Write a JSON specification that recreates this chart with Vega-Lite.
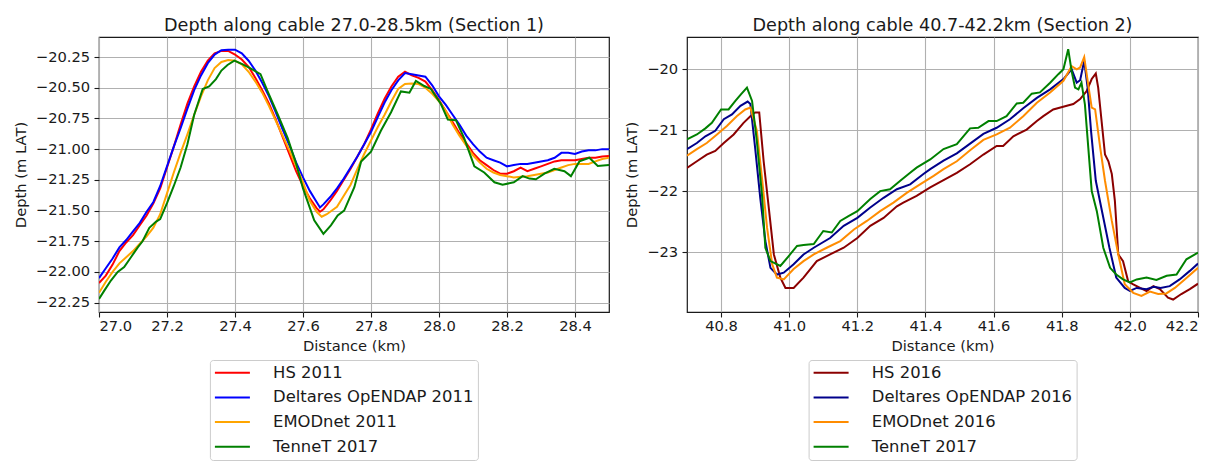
{
"$schema": "https://vega.github.io/schema/vega-lite/v6.json",
"background": "white",
"padding": {"left": 12, "top": 16, "right": 5, "bottom": 0},
"spacing": 14,
"config": {
 "font": "DejaVu Sans",
 "view": {"stroke": "#1a1a1a", "strokeWidth": 1.2},
 "axis": {"grid": true, "gridColor": "#b0b0b0", "gridWidth": 1.1, "domain": false, "tickColor": "#1a1a1a", "tickSize": 5, "tickWidth": 1.1, "labelFont": "DejaVu Sans", "labelFontSize": 14.7, "labelColor": "#1a1a1a", "titleFont": "DejaVu Sans", "titleFontSize": 14.7, "titleFontWeight": "normal", "titleColor": "#1a1a1a"},
 "axisX": {"labelPadding": 1.5, "titlePadding": 5.5},
 "axisY": {"labelPadding": 4.3, "titlePadding": 7},
 "title": {"font": "DejaVu Sans", "fontSize": 17.6, "fontWeight": "normal", "color": "#1a1a1a", "offset": 2.3, "frame": "group", "anchor": "middle"},
 "legend": {"orient": "none", "title": null, "symbolType": "M-2.5,0H2.5", "symbolSize": 196, "symbolStrokeWidth": 2, "symbolOffset": 9.8, "labelOffset": 32.5, "labelFont": "DejaVu Sans", "labelFontSize": 16.4, "labelColor": "#1a1a1a", "labelLimit": 500, "rowPadding": 7.7, "padding": 4.5, "strokeColor": "#cccccc", "fillColor": "white", "cornerRadius": 3}
},
"resolve": {"scale": {"color": "independent"}, "legend": {"color": "independent"}},
"datasets": {
"s1": [
{"x":27.00,"y":-22.09,"s":"HS"},{"x":27.02,"y":-22.03,"s":"HS"},{"x":27.04,"y":-21.94,"s":"HS"},{"x":27.06,"y":-21.83,"s":"HS"},{"x":27.08,"y":-21.76,"s":"HS"},{"x":27.10,"y":-21.70,"s":"HS"},{"x":27.12,"y":-21.62,"s":"HS"},{"x":27.14,"y":-21.54,"s":"HS"},{"x":27.16,"y":-21.44,"s":"HS"},{"x":27.18,"y":-21.32,"s":"HS"},{"x":27.20,"y":-21.15,"s":"HS"},{"x":27.22,"y":-20.98,"s":"HS"},{"x":27.24,"y":-20.80,"s":"HS"},{"x":27.26,"y":-20.63,"s":"HS"},{"x":27.28,"y":-20.49,"s":"HS"},{"x":27.30,"y":-20.37,"s":"HS"},{"x":27.32,"y":-20.28,"s":"HS"},{"x":27.34,"y":-20.22,"s":"HS"},{"x":27.36,"y":-20.20,"s":"HS"},{"x":27.38,"y":-20.20,"s":"HS"},{"x":27.40,"y":-20.23,"s":"HS"},{"x":27.42,"y":-20.27,"s":"HS"},{"x":27.44,"y":-20.33,"s":"HS"},{"x":27.46,"y":-20.42,"s":"HS"},{"x":27.48,"y":-20.52,"s":"HS"},{"x":27.50,"y":-20.63,"s":"HS"},{"x":27.52,"y":-20.76,"s":"HS"},{"x":27.54,"y":-20.90,"s":"HS"},{"x":27.56,"y":-21.04,"s":"HS"},{"x":27.58,"y":-21.18,"s":"HS"},{"x":27.60,"y":-21.30,"s":"HS"},{"x":27.62,"y":-21.40,"s":"HS"},{"x":27.64,"y":-21.48,"s":"HS"},{"x":27.65,"y":-21.51,"s":"HS"},{"x":27.66,"y":-21.49,"s":"HS"},{"x":27.68,"y":-21.42,"s":"HS"},{"x":27.70,"y":-21.34,"s":"HS"},{"x":27.72,"y":-21.25,"s":"HS"},{"x":27.74,"y":-21.16,"s":"HS"},{"x":27.76,"y":-21.06,"s":"HS"},{"x":27.78,"y":-20.96,"s":"HS"},{"x":27.80,"y":-20.84,"s":"HS"},{"x":27.82,"y":-20.71,"s":"HS"},{"x":27.84,"y":-20.59,"s":"HS"},{"x":27.86,"y":-20.49,"s":"HS"},{"x":27.88,"y":-20.41,"s":"HS"},{"x":27.90,"y":-20.37,"s":"HS"},{"x":27.92,"y":-20.40,"s":"HS"},{"x":27.94,"y":-20.42,"s":"HS"},{"x":27.96,"y":-20.45,"s":"HS"},{"x":27.98,"y":-20.52,"s":"HS"},{"x":28.00,"y":-20.60,"s":"HS"},{"x":28.02,"y":-20.69,"s":"HS"},{"x":28.04,"y":-20.78,"s":"HS"},{"x":28.06,"y":-20.87,"s":"HS"},{"x":28.08,"y":-20.95,"s":"HS"},{"x":28.10,"y":-21.03,"s":"HS"},{"x":28.12,"y":-21.09,"s":"HS"},{"x":28.14,"y":-21.13,"s":"HS"},{"x":28.16,"y":-21.17,"s":"HS"},{"x":28.18,"y":-21.20,"s":"HS"},{"x":28.20,"y":-21.20,"s":"HS"},{"x":28.22,"y":-21.18,"s":"HS"},{"x":28.24,"y":-21.15,"s":"HS"},{"x":28.26,"y":-21.18,"s":"HS"},{"x":28.28,"y":-21.16,"s":"HS"},{"x":28.30,"y":-21.14,"s":"HS"},{"x":28.32,"y":-21.12,"s":"HS"},{"x":28.34,"y":-21.10,"s":"HS"},{"x":28.36,"y":-21.09,"s":"HS"},{"x":28.38,"y":-21.09,"s":"HS"},{"x":28.40,"y":-21.09,"s":"HS"},{"x":28.42,"y":-21.08,"s":"HS"},{"x":28.44,"y":-21.07,"s":"HS"},{"x":28.46,"y":-21.07,"s":"HS"},{"x":28.48,"y":-21.06,"s":"HS"},{"x":28.50,"y":-21.055,"s":"HS"},
{"x":27.00,"y":-22.05,"s":"DE"},{"x":27.02,"y":-21.97,"s":"DE"},{"x":27.04,"y":-21.89,"s":"DE"},{"x":27.06,"y":-21.80,"s":"DE"},{"x":27.08,"y":-21.74,"s":"DE"},{"x":27.10,"y":-21.67,"s":"DE"},{"x":27.12,"y":-21.60,"s":"DE"},{"x":27.14,"y":-21.51,"s":"DE"},{"x":27.16,"y":-21.43,"s":"DE"},{"x":27.18,"y":-21.30,"s":"DE"},{"x":27.20,"y":-21.14,"s":"DE"},{"x":27.22,"y":-20.98,"s":"DE"},{"x":27.24,"y":-20.83,"s":"DE"},{"x":27.26,"y":-20.67,"s":"DE"},{"x":27.28,"y":-20.52,"s":"DE"},{"x":27.30,"y":-20.40,"s":"DE"},{"x":27.32,"y":-20.30,"s":"DE"},{"x":27.34,"y":-20.23,"s":"DE"},{"x":27.36,"y":-20.195,"s":"DE"},{"x":27.38,"y":-20.19,"s":"DE"},{"x":27.40,"y":-20.19,"s":"DE"},{"x":27.42,"y":-20.22,"s":"DE"},{"x":27.44,"y":-20.28,"s":"DE"},{"x":27.46,"y":-20.36,"s":"DE"},{"x":27.48,"y":-20.46,"s":"DE"},{"x":27.50,"y":-20.57,"s":"DE"},{"x":27.52,"y":-20.70,"s":"DE"},{"x":27.54,"y":-20.84,"s":"DE"},{"x":27.56,"y":-20.97,"s":"DE"},{"x":27.58,"y":-21.11,"s":"DE"},{"x":27.60,"y":-21.23,"s":"DE"},{"x":27.62,"y":-21.34,"s":"DE"},{"x":27.64,"y":-21.43,"s":"DE"},{"x":27.65,"y":-21.475,"s":"DE"},{"x":27.66,"y":-21.45,"s":"DE"},{"x":27.68,"y":-21.39,"s":"DE"},{"x":27.70,"y":-21.32,"s":"DE"},{"x":27.72,"y":-21.24,"s":"DE"},{"x":27.74,"y":-21.15,"s":"DE"},{"x":27.76,"y":-21.06,"s":"DE"},{"x":27.78,"y":-20.96,"s":"DE"},{"x":27.80,"y":-20.86,"s":"DE"},{"x":27.82,"y":-20.74,"s":"DE"},{"x":27.84,"y":-20.62,"s":"DE"},{"x":27.86,"y":-20.52,"s":"DE"},{"x":27.88,"y":-20.44,"s":"DE"},{"x":27.90,"y":-20.38,"s":"DE"},{"x":27.92,"y":-20.39,"s":"DE"},{"x":27.94,"y":-20.40,"s":"DE"},{"x":27.96,"y":-20.41,"s":"DE"},{"x":27.98,"y":-20.48,"s":"DE"},{"x":28.00,"y":-20.57,"s":"DE"},{"x":28.02,"y":-20.64,"s":"DE"},{"x":28.04,"y":-20.72,"s":"DE"},{"x":28.06,"y":-20.80,"s":"DE"},{"x":28.08,"y":-20.89,"s":"DE"},{"x":28.10,"y":-20.96,"s":"DE"},{"x":28.12,"y":-21.02,"s":"DE"},{"x":28.14,"y":-21.07,"s":"DE"},{"x":28.16,"y":-21.09,"s":"DE"},{"x":28.18,"y":-21.11,"s":"DE"},{"x":28.20,"y":-21.14,"s":"DE"},{"x":28.22,"y":-21.13,"s":"DE"},{"x":28.24,"y":-21.12,"s":"DE"},{"x":28.26,"y":-21.12,"s":"DE"},{"x":28.28,"y":-21.11,"s":"DE"},{"x":28.30,"y":-21.10,"s":"DE"},{"x":28.32,"y":-21.09,"s":"DE"},{"x":28.34,"y":-21.07,"s":"DE"},{"x":28.36,"y":-21.03,"s":"DE"},{"x":28.38,"y":-21.03,"s":"DE"},{"x":28.40,"y":-21.04,"s":"DE"},{"x":28.42,"y":-21.02,"s":"DE"},{"x":28.44,"y":-21.01,"s":"DE"},{"x":28.46,"y":-21.01,"s":"DE"},{"x":28.48,"y":-21.00,"s":"DE"},{"x":28.50,"y":-21.00,"s":"DE"},
{"x":27.00,"y":-22.17,"s":"EM"},{"x":27.02,"y":-22.08,"s":"EM"},{"x":27.04,"y":-22.00,"s":"EM"},{"x":27.06,"y":-21.93,"s":"EM"},{"x":27.08,"y":-21.88,"s":"EM"},{"x":27.10,"y":-21.83,"s":"EM"},{"x":27.12,"y":-21.77,"s":"EM"},{"x":27.14,"y":-21.71,"s":"EM"},{"x":27.16,"y":-21.64,"s":"EM"},{"x":27.18,"y":-21.53,"s":"EM"},{"x":27.20,"y":-21.36,"s":"EM"},{"x":27.22,"y":-21.19,"s":"EM"},{"x":27.24,"y":-21.03,"s":"EM"},{"x":27.26,"y":-20.88,"s":"EM"},{"x":27.28,"y":-20.72,"s":"EM"},{"x":27.30,"y":-20.57,"s":"EM"},{"x":27.32,"y":-20.44,"s":"EM"},{"x":27.34,"y":-20.34,"s":"EM"},{"x":27.36,"y":-20.29,"s":"EM"},{"x":27.38,"y":-20.275,"s":"EM"},{"x":27.40,"y":-20.28,"s":"EM"},{"x":27.42,"y":-20.31,"s":"EM"},{"x":27.44,"y":-20.37,"s":"EM"},{"x":27.46,"y":-20.45,"s":"EM"},{"x":27.48,"y":-20.54,"s":"EM"},{"x":27.50,"y":-20.65,"s":"EM"},{"x":27.52,"y":-20.77,"s":"EM"},{"x":27.54,"y":-20.89,"s":"EM"},{"x":27.56,"y":-21.01,"s":"EM"},{"x":27.58,"y":-21.14,"s":"EM"},{"x":27.60,"y":-21.27,"s":"EM"},{"x":27.62,"y":-21.42,"s":"EM"},{"x":27.64,"y":-21.51,"s":"EM"},{"x":27.655,"y":-21.55,"s":"EM"},{"x":27.67,"y":-21.53,"s":"EM"},{"x":27.70,"y":-21.47,"s":"EM"},{"x":27.72,"y":-21.38,"s":"EM"},{"x":27.74,"y":-21.29,"s":"EM"},{"x":27.76,"y":-21.16,"s":"EM"},{"x":27.78,"y":-21.04,"s":"EM"},{"x":27.80,"y":-20.93,"s":"EM"},{"x":27.82,"y":-20.82,"s":"EM"},{"x":27.84,"y":-20.72,"s":"EM"},{"x":27.86,"y":-20.61,"s":"EM"},{"x":27.88,"y":-20.51,"s":"EM"},{"x":27.90,"y":-20.47,"s":"EM"},{"x":27.92,"y":-20.465,"s":"EM"},{"x":27.94,"y":-20.47,"s":"EM"},{"x":27.96,"y":-20.50,"s":"EM"},{"x":27.98,"y":-20.55,"s":"EM"},{"x":28.00,"y":-20.61,"s":"EM"},{"x":28.02,"y":-20.69,"s":"EM"},{"x":28.04,"y":-20.80,"s":"EM"},{"x":28.06,"y":-20.89,"s":"EM"},{"x":28.08,"y":-20.97,"s":"EM"},{"x":28.10,"y":-21.05,"s":"EM"},{"x":28.12,"y":-21.11,"s":"EM"},{"x":28.14,"y":-21.16,"s":"EM"},{"x":28.16,"y":-21.19,"s":"EM"},{"x":28.18,"y":-21.21,"s":"EM"},{"x":28.20,"y":-21.22,"s":"EM"},{"x":28.22,"y":-21.23,"s":"EM"},{"x":28.24,"y":-21.225,"s":"EM"},{"x":28.26,"y":-21.22,"s":"EM"},{"x":28.28,"y":-21.21,"s":"EM"},{"x":28.30,"y":-21.20,"s":"EM"},{"x":28.32,"y":-21.19,"s":"EM"},{"x":28.34,"y":-21.17,"s":"EM"},{"x":28.36,"y":-21.15,"s":"EM"},{"x":28.38,"y":-21.13,"s":"EM"},{"x":28.40,"y":-21.12,"s":"EM"},{"x":28.42,"y":-21.12,"s":"EM"},{"x":28.44,"y":-21.12,"s":"EM"},{"x":28.46,"y":-21.10,"s":"EM"},{"x":28.48,"y":-21.08,"s":"EM"},{"x":28.50,"y":-21.07,"s":"EM"},
{"x":27.000,"y":-22.22,"s":"TE"},{"x":27.016,"y":-22.15,"s":"TE"},{"x":27.035,"y":-22.07,"s":"TE"},{"x":27.055,"y":-22.00,"s":"TE"},{"x":27.074,"y":-21.96,"s":"TE"},{"x":27.094,"y":-21.88,"s":"TE"},{"x":27.114,"y":-21.80,"s":"TE"},{"x":27.128,"y":-21.75,"s":"TE"},{"x":27.148,"y":-21.64,"s":"TE"},{"x":27.168,"y":-21.59,"s":"TE"},{"x":27.180,"y":-21.57,"s":"TE"},{"x":27.200,"y":-21.44,"s":"TE"},{"x":27.220,"y":-21.30,"s":"TE"},{"x":27.240,"y":-21.15,"s":"TE"},{"x":27.260,"y":-20.96,"s":"TE"},{"x":27.280,"y":-20.72,"s":"TE"},{"x":27.305,"y":-20.51,"s":"TE"},{"x":27.324,"y":-20.49,"s":"TE"},{"x":27.344,"y":-20.43,"s":"TE"},{"x":27.360,"y":-20.36,"s":"TE"},{"x":27.378,"y":-20.315,"s":"TE"},{"x":27.398,"y":-20.28,"s":"TE"},{"x":27.423,"y":-20.31,"s":"TE"},{"x":27.447,"y":-20.345,"s":"TE"},{"x":27.475,"y":-20.39,"s":"TE"},{"x":27.496,"y":-20.53,"s":"TE"},{"x":27.526,"y":-20.72,"s":"TE"},{"x":27.555,"y":-20.91,"s":"TE"},{"x":27.580,"y":-21.12,"s":"TE"},{"x":27.600,"y":-21.32,"s":"TE"},{"x":27.633,"y":-21.58,"s":"TE"},{"x":27.660,"y":-21.69,"s":"TE"},{"x":27.682,"y":-21.62,"s":"TE"},{"x":27.702,"y":-21.54,"s":"TE"},{"x":27.721,"y":-21.50,"s":"TE"},{"x":27.751,"y":-21.31,"s":"TE"},{"x":27.771,"y":-21.10,"s":"TE"},{"x":27.800,"y":-21.02,"s":"TE"},{"x":27.829,"y":-20.85,"s":"TE"},{"x":27.859,"y":-20.70,"s":"TE"},{"x":27.888,"y":-20.53,"s":"TE"},{"x":27.913,"y":-20.54,"s":"TE"},{"x":27.932,"y":-20.445,"s":"TE"},{"x":27.957,"y":-20.486,"s":"TE"},{"x":27.976,"y":-20.51,"s":"TE"},{"x":28.006,"y":-20.635,"s":"TE"},{"x":28.026,"y":-20.76,"s":"TE"},{"x":28.050,"y":-20.765,"s":"TE"},{"x":28.074,"y":-20.91,"s":"TE"},{"x":28.104,"y":-21.14,"s":"TE"},{"x":28.133,"y":-21.19,"s":"TE"},{"x":28.163,"y":-21.27,"s":"TE"},{"x":28.187,"y":-21.29,"s":"TE"},{"x":28.220,"y":-21.27,"s":"TE"},{"x":28.246,"y":-21.22,"s":"TE"},{"x":28.266,"y":-21.24,"s":"TE"},{"x":28.285,"y":-21.245,"s":"TE"},{"x":28.310,"y":-21.20,"s":"TE"},{"x":28.339,"y":-21.16,"s":"TE"},{"x":28.369,"y":-21.18,"s":"TE"},{"x":28.388,"y":-21.22,"s":"TE"},{"x":28.413,"y":-21.10,"s":"TE"},{"x":28.442,"y":-21.07,"s":"TE"},{"x":28.467,"y":-21.137,"s":"TE"},{"x":28.500,"y":-21.13,"s":"TE"}
],
"s2": [
{"x":40.700,"y":-21.62,"s":"HS"},{"x":40.729,"y":-21.51,"s":"HS"},{"x":40.758,"y":-21.40,"s":"HS"},{"x":40.783,"y":-21.34,"s":"HS"},{"x":40.808,"y":-21.21,"s":"HS"},{"x":40.837,"y":-21.07,"s":"HS"},{"x":40.866,"y":-20.88,"s":"HS"},{"x":40.886,"y":-20.77,"s":"HS"},{"x":40.900,"y":-20.71,"s":"HS"},{"x":40.912,"y":-20.71,"s":"HS"},{"x":40.925,"y":-21.51,"s":"HS"},{"x":40.940,"y":-22.27,"s":"HS"},{"x":40.955,"y":-23.04,"s":"HS"},{"x":40.974,"y":-23.42,"s":"HS"},{"x":40.989,"y":-23.59,"s":"HS"},{"x":41.013,"y":-23.59,"s":"HS"},{"x":41.042,"y":-23.42,"s":"HS"},{"x":41.081,"y":-23.15,"s":"HS"},{"x":41.120,"y":-23.04,"s":"HS"},{"x":41.160,"y":-22.93,"s":"HS"},{"x":41.200,"y":-22.77,"s":"HS"},{"x":41.238,"y":-22.57,"s":"HS"},{"x":41.277,"y":-22.44,"s":"HS"},{"x":41.316,"y":-22.25,"s":"HS"},{"x":41.335,"y":-22.19,"s":"HS"},{"x":41.374,"y":-22.08,"s":"HS"},{"x":41.414,"y":-21.94,"s":"HS"},{"x":41.453,"y":-21.82,"s":"HS"},{"x":41.492,"y":-21.70,"s":"HS"},{"x":41.531,"y":-21.56,"s":"HS"},{"x":41.570,"y":-21.40,"s":"HS"},{"x":41.609,"y":-21.26,"s":"HS"},{"x":41.628,"y":-21.26,"s":"HS"},{"x":41.658,"y":-21.10,"s":"HS"},{"x":41.697,"y":-20.99,"s":"HS"},{"x":41.727,"y":-20.85,"s":"HS"},{"x":41.746,"y":-20.77,"s":"HS"},{"x":41.775,"y":-20.66,"s":"HS"},{"x":41.815,"y":-20.60,"s":"HS"},{"x":41.834,"y":-20.57,"s":"HS"},{"x":41.854,"y":-20.49,"s":"HS"},{"x":41.873,"y":-20.36,"s":"HS"},{"x":41.888,"y":-20.16,"s":"HS"},{"x":41.900,"y":-20.07,"s":"HS"},{"x":41.907,"y":-20.30,"s":"HS"},{"x":41.917,"y":-20.85,"s":"HS"},{"x":41.927,"y":-21.40,"s":"HS"},{"x":41.937,"y":-21.51,"s":"HS"},{"x":41.947,"y":-21.72,"s":"HS"},{"x":41.956,"y":-22.16,"s":"HS"},{"x":41.966,"y":-23.04,"s":"HS"},{"x":41.980,"y":-23.15,"s":"HS"},{"x":41.995,"y":-23.48,"s":"HS"},{"x":42.010,"y":-23.53,"s":"HS"},{"x":42.030,"y":-23.59,"s":"HS"},{"x":42.049,"y":-23.64,"s":"HS"},{"x":42.069,"y":-23.56,"s":"HS"},{"x":42.088,"y":-23.61,"s":"HS"},{"x":42.112,"y":-23.75,"s":"HS"},{"x":42.127,"y":-23.78,"s":"HS"},{"x":42.151,"y":-23.69,"s":"HS"},{"x":42.176,"y":-23.61,"s":"HS"},{"x":42.200,"y":-23.52,"s":"HS"},
{"x":40.700,"y":-21.31,"s":"DE"},{"x":40.729,"y":-21.21,"s":"DE"},{"x":40.754,"y":-21.10,"s":"DE"},{"x":40.783,"y":-21.01,"s":"DE"},{"x":40.808,"y":-20.82,"s":"DE"},{"x":40.832,"y":-20.74,"s":"DE"},{"x":40.857,"y":-20.60,"s":"DE"},{"x":40.878,"y":-20.53,"s":"DE"},{"x":40.886,"y":-20.57,"s":"DE"},{"x":40.900,"y":-21.29,"s":"DE"},{"x":40.915,"y":-22.11,"s":"DE"},{"x":40.930,"y":-22.82,"s":"DE"},{"x":40.945,"y":-23.26,"s":"DE"},{"x":40.964,"y":-23.37,"s":"DE"},{"x":40.984,"y":-23.34,"s":"DE"},{"x":41.013,"y":-23.20,"s":"DE"},{"x":41.042,"y":-23.04,"s":"DE"},{"x":41.072,"y":-22.93,"s":"DE"},{"x":41.120,"y":-22.77,"s":"DE"},{"x":41.160,"y":-22.57,"s":"DE"},{"x":41.200,"y":-22.44,"s":"DE"},{"x":41.238,"y":-22.27,"s":"DE"},{"x":41.277,"y":-22.11,"s":"DE"},{"x":41.316,"y":-21.97,"s":"DE"},{"x":41.355,"y":-21.89,"s":"DE"},{"x":41.394,"y":-21.72,"s":"DE"},{"x":41.414,"y":-21.64,"s":"DE"},{"x":41.453,"y":-21.50,"s":"DE"},{"x":41.492,"y":-21.38,"s":"DE"},{"x":41.531,"y":-21.22,"s":"DE"},{"x":41.570,"y":-21.06,"s":"DE"},{"x":41.609,"y":-20.96,"s":"DE"},{"x":41.648,"y":-20.82,"s":"DE"},{"x":41.687,"y":-20.64,"s":"DE"},{"x":41.727,"y":-20.47,"s":"DE"},{"x":41.766,"y":-20.33,"s":"DE"},{"x":41.805,"y":-20.16,"s":"DE"},{"x":41.829,"y":-20.00,"s":"DE"},{"x":41.844,"y":-20.22,"s":"DE"},{"x":41.854,"y":-20.18,"s":"DE"},{"x":41.866,"y":-19.86,"s":"DE"},{"x":41.876,"y":-20.30,"s":"DE"},{"x":41.886,"y":-21.01,"s":"DE"},{"x":41.900,"y":-21.83,"s":"DE"},{"x":41.920,"y":-22.38,"s":"DE"},{"x":41.940,"y":-22.93,"s":"DE"},{"x":41.960,"y":-23.42,"s":"DE"},{"x":41.985,"y":-23.59,"s":"DE"},{"x":42.000,"y":-23.64,"s":"DE"},{"x":42.020,"y":-23.59,"s":"DE"},{"x":42.049,"y":-23.61,"s":"DE"},{"x":42.070,"y":-23.57,"s":"DE"},{"x":42.090,"y":-23.59,"s":"DE"},{"x":42.117,"y":-23.56,"s":"DE"},{"x":42.146,"y":-23.45,"s":"DE"},{"x":42.176,"y":-23.31,"s":"DE"},{"x":42.200,"y":-23.19,"s":"DE"},
{"x":40.700,"y":-21.42,"s":"EM"},{"x":40.729,"y":-21.31,"s":"EM"},{"x":40.758,"y":-21.21,"s":"EM"},{"x":40.788,"y":-21.07,"s":"EM"},{"x":40.817,"y":-20.93,"s":"EM"},{"x":40.846,"y":-20.77,"s":"EM"},{"x":40.871,"y":-20.66,"s":"EM"},{"x":40.886,"y":-20.63,"s":"EM"},{"x":40.905,"y":-21.01,"s":"EM"},{"x":40.920,"y":-21.78,"s":"EM"},{"x":40.935,"y":-22.60,"s":"EM"},{"x":40.950,"y":-23.20,"s":"EM"},{"x":40.964,"y":-23.42,"s":"EM"},{"x":40.984,"y":-23.45,"s":"EM"},{"x":41.013,"y":-23.28,"s":"EM"},{"x":41.042,"y":-23.15,"s":"EM"},{"x":41.072,"y":-23.04,"s":"EM"},{"x":41.110,"y":-22.93,"s":"EM"},{"x":41.150,"y":-22.82,"s":"EM"},{"x":41.190,"y":-22.63,"s":"EM"},{"x":41.228,"y":-22.49,"s":"EM"},{"x":41.267,"y":-22.33,"s":"EM"},{"x":41.306,"y":-22.19,"s":"EM"},{"x":41.345,"y":-22.03,"s":"EM"},{"x":41.384,"y":-21.89,"s":"EM"},{"x":41.424,"y":-21.75,"s":"EM"},{"x":41.453,"y":-21.64,"s":"EM"},{"x":41.492,"y":-21.51,"s":"EM"},{"x":41.531,"y":-21.33,"s":"EM"},{"x":41.570,"y":-21.16,"s":"EM"},{"x":41.609,"y":-21.07,"s":"EM"},{"x":41.648,"y":-20.96,"s":"EM"},{"x":41.687,"y":-20.77,"s":"EM"},{"x":41.727,"y":-20.55,"s":"EM"},{"x":41.766,"y":-20.38,"s":"EM"},{"x":41.805,"y":-20.19,"s":"EM"},{"x":41.829,"y":-19.95,"s":"EM"},{"x":41.844,"y":-20.00,"s":"EM"},{"x":41.854,"y":-19.97,"s":"EM"},{"x":41.866,"y":-19.80,"s":"EM"},{"x":41.879,"y":-20.30,"s":"EM"},{"x":41.888,"y":-20.63,"s":"EM"},{"x":41.898,"y":-20.66,"s":"EM"},{"x":41.913,"y":-21.29,"s":"EM"},{"x":41.927,"y":-21.83,"s":"EM"},{"x":41.947,"y":-22.49,"s":"EM"},{"x":41.966,"y":-23.04,"s":"EM"},{"x":41.985,"y":-23.53,"s":"EM"},{"x":42.010,"y":-23.67,"s":"EM"},{"x":42.034,"y":-23.72,"s":"EM"},{"x":42.059,"y":-23.65,"s":"EM"},{"x":42.083,"y":-23.69,"s":"EM"},{"x":42.107,"y":-23.68,"s":"EM"},{"x":42.132,"y":-23.59,"s":"EM"},{"x":42.161,"y":-23.45,"s":"EM"},{"x":42.200,"y":-23.26,"s":"EM"},
{"x":40.700,"y":-21.15,"s":"TE"},{"x":40.729,"y":-21.07,"s":"TE"},{"x":40.754,"y":-20.97,"s":"TE"},{"x":40.773,"y":-20.88,"s":"TE"},{"x":40.800,"y":-20.66,"s":"TE"},{"x":40.822,"y":-20.66,"s":"TE"},{"x":40.842,"y":-20.52,"s":"TE"},{"x":40.857,"y":-20.42,"s":"TE"},{"x":40.876,"y":-20.30,"s":"TE"},{"x":40.891,"y":-20.52,"s":"TE"},{"x":40.905,"y":-21.18,"s":"TE"},{"x":40.920,"y":-22.05,"s":"TE"},{"x":40.930,"y":-22.93,"s":"TE"},{"x":40.945,"y":-23.15,"s":"TE"},{"x":40.974,"y":-23.23,"s":"TE"},{"x":40.998,"y":-23.07,"s":"TE"},{"x":41.023,"y":-22.90,"s":"TE"},{"x":41.042,"y":-22.885,"s":"TE"},{"x":41.072,"y":-22.87,"s":"TE"},{"x":41.100,"y":-22.655,"s":"TE"},{"x":41.125,"y":-22.68,"s":"TE"},{"x":41.150,"y":-22.49,"s":"TE"},{"x":41.174,"y":-22.41,"s":"TE"},{"x":41.200,"y":-22.33,"s":"TE"},{"x":41.238,"y":-22.13,"s":"TE"},{"x":41.267,"y":-22.00,"s":"TE"},{"x":41.296,"y":-21.97,"s":"TE"},{"x":41.326,"y":-21.83,"s":"TE"},{"x":41.355,"y":-21.70,"s":"TE"},{"x":41.374,"y":-21.615,"s":"TE"},{"x":41.414,"y":-21.48,"s":"TE"},{"x":41.453,"y":-21.31,"s":"TE"},{"x":41.492,"y":-21.23,"s":"TE"},{"x":41.531,"y":-20.97,"s":"TE"},{"x":41.555,"y":-20.96,"s":"TE"},{"x":41.585,"y":-20.85,"s":"TE"},{"x":41.609,"y":-20.85,"s":"TE"},{"x":41.638,"y":-20.77,"s":"TE"},{"x":41.668,"y":-20.56,"s":"TE"},{"x":41.687,"y":-20.55,"s":"TE"},{"x":41.712,"y":-20.40,"s":"TE"},{"x":41.736,"y":-20.38,"s":"TE"},{"x":41.766,"y":-20.22,"s":"TE"},{"x":41.790,"y":-20.08,"s":"TE"},{"x":41.805,"y":-20.00,"s":"TE"},{"x":41.819,"y":-19.67,"s":"TE"},{"x":41.829,"y":-20.03,"s":"TE"},{"x":41.839,"y":-20.30,"s":"TE"},{"x":41.849,"y":-20.33,"s":"TE"},{"x":41.858,"y":-20.22,"s":"TE"},{"x":41.868,"y":-20.575,"s":"TE"},{"x":41.878,"y":-21.29,"s":"TE"},{"x":41.888,"y":-22.00,"s":"TE"},{"x":41.903,"y":-22.33,"s":"TE"},{"x":41.922,"y":-22.93,"s":"TE"},{"x":41.942,"y":-23.26,"s":"TE"},{"x":41.960,"y":-23.37,"s":"TE"},{"x":41.980,"y":-23.45,"s":"TE"},{"x":42.000,"y":-23.50,"s":"TE"},{"x":42.020,"y":-23.45,"s":"TE"},{"x":42.049,"y":-23.42,"s":"TE"},{"x":42.078,"y":-23.46,"s":"TE"},{"x":42.108,"y":-23.39,"s":"TE"},{"x":42.137,"y":-23.37,"s":"TE"},{"x":42.166,"y":-23.12,"s":"TE"},{"x":42.200,"y":-23.01,"s":"TE"}
]
},
"hconcat": [
{
 "width": 510, "height": 275,
 "title": {"text": "Depth along cable 27.0-28.5km (Section 1)"},
 "data": {"name": "s1"},
 "mark": {"type": "line", "strokeWidth": 2, "clip": true},
 "encoding": {
  "x": {"field": "x", "type": "quantitative", "scale": {"domain": [27.0, 28.5], "nice": false, "zero": false}, "axis": {"title": "Distance (km)", "values": [27.0, 27.2, 27.4, 27.6, 27.8, 28.0, 28.2, 28.4], "format": ".1f"}},
  "y": {"field": "y", "type": "quantitative", "scale": {"domain": [-22.326, -20.087], "nice": false, "zero": false}, "axis": {"title": "Depth (m LAT)", "values": [-22.25, -22.0, -21.75, -21.5, -21.25, -21.0, -20.75, -20.5, -20.25], "format": ".2f"}},
  "color": {"field": "s", "type": "nominal", "sort": null, "scale": {"domain": ["HS", "DE", "EM", "TE"], "range": ["#ff0000", "#0000ff", "#ffa500", "#008000"]}, "legend": {"orient": "none", "legendX": 110.9, "legendY": 323, "labelExpr": "datum.label == 'HS' ? 'HS 2011' : datum.label == 'DE' ? 'Deltares OpENDAP 2011\u00a0\u00a0' : datum.label == 'EM' ? 'EMODnet 2011' : 'TenneT 2017'"}}
 }
},
{
 "width": 511, "height": 275,
 "title": {"text": "Depth along cable 40.7-42.2km (Section 2)"},
 "data": {"name": "s2"},
 "mark": {"type": "line", "strokeWidth": 2, "clip": true},
 "encoding": {
  "x": {"field": "x", "type": "quantitative", "scale": {"domain": [40.7, 42.2], "nice": false, "zero": false}, "axis": {"title": "Distance (km)", "values": [40.8, 41.0, 41.2, 41.4, 41.6, 41.8, 42.0, 42.2], "format": ".1f"}},
  "y": {"field": "y", "type": "quantitative", "scale": {"domain": [-23.985, -19.47], "nice": false, "zero": false}, "axis": {"title": "Depth (m LAT)", "values": [-23, -22, -21, -20], "format": "d"}},
  "color": {"field": "s", "type": "nominal", "sort": null, "scale": {"domain": ["HS", "DE", "EM", "TE"], "range": ["#8b0000", "#00008b", "#ff8c00", "#008000"]}, "legend": {"orient": "none", "legendX": 121.6, "legendY": 323, "labelExpr": "datum.label == 'HS' ? 'HS 2016' : datum.label == 'DE' ? 'Deltares OpENDAP 2016\u00a0\u00a0' : datum.label == 'EM' ? 'EMODnet 2016' : 'TenneT 2017'"}}
 }
}
]
}
